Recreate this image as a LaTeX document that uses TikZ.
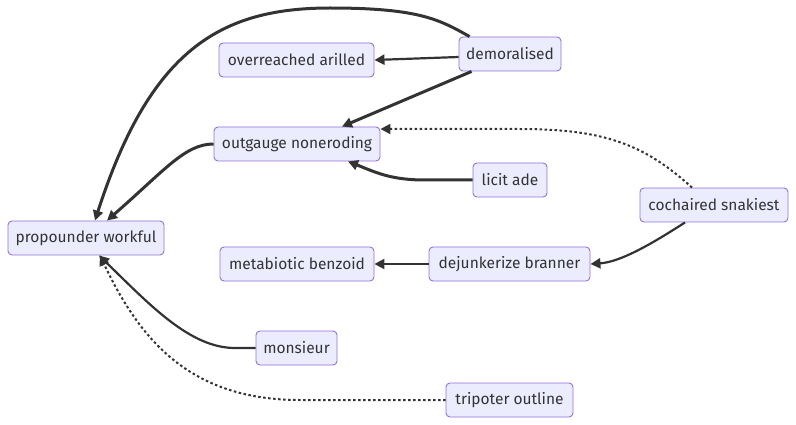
\documentclass[tikz,border=0pt]{standalone}
\usepackage{fontspec}
\setmainfont{Fira Sans}
\usetikzlibrary{arrows.meta}
\definecolor{boxfill}{HTML}{ECECFF}
\definecolor{boxline}{HTML}{9370DB}
\definecolor{ink}{HTML}{333333}
\begin{document}
\begin{tikzpicture}[x=1pt,y=-1pt,
    box/.style={draw=boxline,fill=boxfill,rounded corners=4pt,line width=0.9pt,
      minimum height=34pt,inner xsep=0pt,text=ink,font=\fontsize{15.5}{18}\selectfont},
    link/.style={draw=ink,line width=2.2pt,-{Triangle[length=10pt,width=10pt]}},
    heavy/.style={link,line width=3pt},
    dots/.style={link,line width=2pt,dash pattern=on 2.5pt off 2.5pt}]
    \useasboundingbox (0,0) rectangle (796,425);
    % nodes
    \node[box,minimum width=102] (dem) at (510,54) {demoralised};
    \node[box,minimum width=155] (over) at (296.5,60) {overreached arilled};
    \node[box,minimum width=166] (outg) at (297,144) {outgauge noneroding};
    \node[box,minimum width=74] (licit) at (510,180) {licit ade};
    \node[box,minimum width=148] (coch) at (714,205) {cochaired snakiest};
    \node[box,minimum width=156] (prop) at (86,238) {propounder workful};
    \node[box,minimum width=154] (meta) at (297,264) {metabiotic benzoid};
    \node[box,minimum width=161] (dej) at (509.5,264) {dejunkerize branner};
    \node[box,minimum width=81] (mons) at (296.5,348) {monsieur};
    \node[box,minimum width=127] (trip) at (509.5,400) {tripoter outline};
    % edges
    \draw[heavy] ([xshift=11]dem.north west) .. controls (440,20) and (420,8) .. (330,8)
      .. controls (220,8) and (150,50) .. ([xshift=9]prop.north);
    \draw[link] ([yshift=-3]dem.west) -- (over.east);
    \draw[heavy] ([xshift=13]dem.south west) -- ([xshift=45]outg.north);
    \draw[heavy] (outg.west) .. controls (185,144) and (165,170) .. ([xshift=21]prop.north);
    \draw[heavy] (licit.west) -- (425,180) .. controls (390,180) and (375,172) .. ([xshift=51]outg.south);
    \draw[dots] ([xshift=-22]coch.north) .. controls (645,145) and (605,129) .. (520,129)
      -- ([yshift=15]outg.east);
    \draw[link] ([xshift=-29]coch.south) .. controls (650,245) and (620,262) .. (dej.east);
    \draw[link] (dej.west) -- (meta.east);
    \draw[link] (mons.west) -- (235,348) .. controls (190,348) and (150,305) .. ([xshift=13]prop.south);
    \draw[dots] (trip.west) -- (300,400) .. controls (190,400) and (140,340) .. ([xshift=14]prop.south);
\end{tikzpicture}
\end{document}
